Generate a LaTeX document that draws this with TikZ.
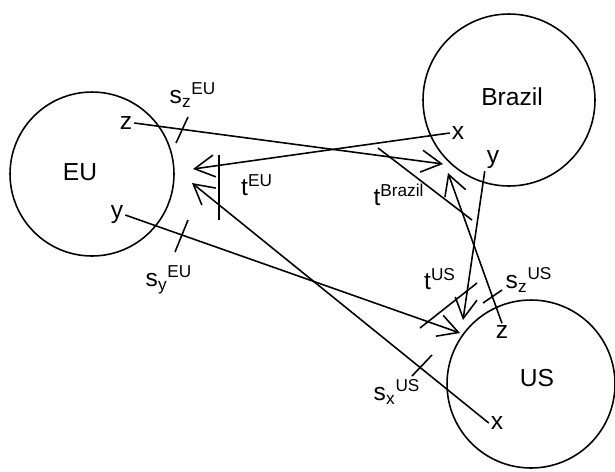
\documentclass[tikz,border=0pt]{standalone}
\usepackage{fontspec}
\setmainfont{Liberation Sans}
\usetikzlibrary{arrows.meta}

\tikzset{
  region/.style={circle, draw, line width=0.9pt, inner sep=0pt},
  lbl/.style={inner sep=1pt, font=\fontsize{14}{16}\selectfont},
  flow/.style={line width=0.9pt, -{Straight Barb[length=4mm,width=4.4mm,line width=0.9pt]}},
  tick/.style={line width=0.9pt}
}

\begin{document}
\begin{tikzpicture}[x=0.02cm,y=-0.02cm]
\useasboundingbox (0,0) rectangle (615,471);
% draws regions
\node[region, minimum size=3.28cm] (eu) at (92,174){};
\node[region, minimum size=3.44cm] (brazil) at (509,100){};
\node[region, minimum size=3.36cm] (us) at (531,384){};
\node[lbl] (eutxt) at (80,172) {EU};
\node[lbl] (brtxt) at (512,97) {Brazil};
\node[lbl] (ustxt) at (537,378) {US};
% labels goods
\node[lbl] (euz) at (126,123) {z};
\node[lbl] (euy) at (117,215) {y};
\node[lbl] (brx) at (458,133) {x};
\node[lbl] (bry) at (493,160) {y};
\node[lbl] (usz) at (502,332) {z};
\node[lbl] (usx) at (497,423) {x};
% arrow tips
\coordinate (eutip1) at (193,169);
\coordinate (eutip2) at (192,183);
\coordinate (brtip1) at (443,164);
\coordinate (brtip2) at (448,173);
\coordinate (ustip1) at (460,333);
\coordinate (ustip2) at (463,320);
% draws flows
\draw[flow] (euz.east) -- (brtip1);
\draw[flow] (brx.west) -- (eutip1);
\draw[flow] (usx.west) -- (eutip2);
\draw[flow] (euy.east) -- (ustip1);
\draw[flow] (bry.south west) -- (ustip2);
\draw[flow] (usz.north) -- (brtip2);
% draws ticks
\draw[tick] (188,117) -- (176,143);
\draw[tick] (188,220) -- (175,252);
\draw[tick] (219,155) -- (219,220);
\draw[tick] (378,148) -- (472,220);
\draw[tick] (420,328) -- (477,283);
\draw[tick] (483,303) -- (502,290);
\draw[tick] (432,355) -- (412,376);
% labels ticks
\node[lbl] (szeu) at (193,95) {s\textsubscript{z}\textsuperscript{EU}};
\node[lbl] (syeu) at (169,280) {s\textsubscript{y}\textsuperscript{EU}};
\node[lbl] (teu) at (257,185) {t\textsuperscript{EU}};
\node[lbl] (tbr) at (399,195) {t\textsuperscript{Brazil}};
\node[lbl] (tus) at (440,279) {t\textsuperscript{US}};
\node[lbl] (szus) at (529,280) {s\textsubscript{z}\textsuperscript{US}};
\node[lbl] (sxus) at (397,392) {s\textsubscript{x}\textsuperscript{US}};
\end{tikzpicture}
\end{document}
